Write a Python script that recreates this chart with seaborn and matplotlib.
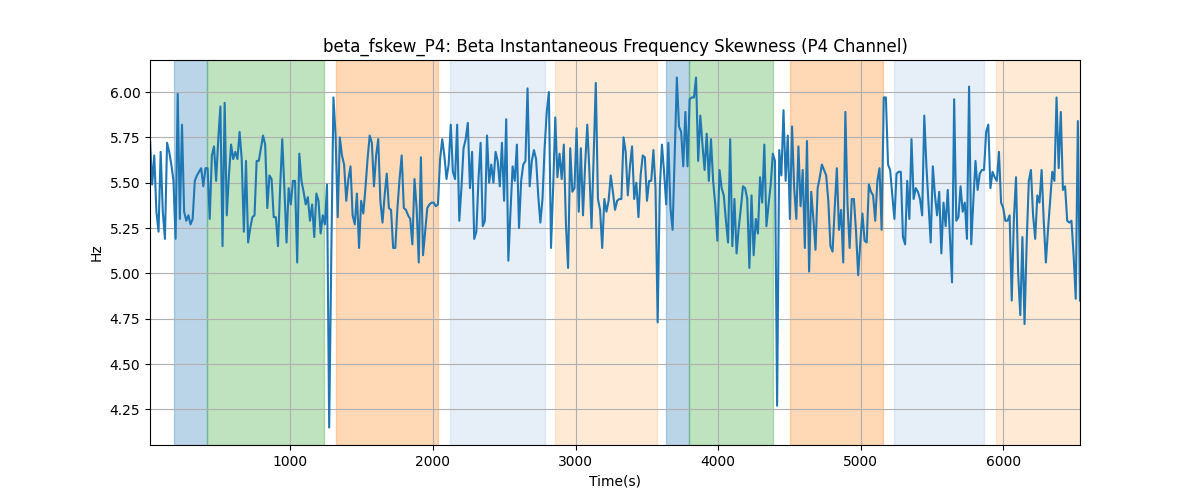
import numpy as np
import pandas as pd
import seaborn as sns
import matplotlib
matplotlib.use("Agg")
import matplotlib.pyplot as plt


# first and last sample time (s), samples are evenly spaced
t_start = 16
t_end = 6538

fskew = [
    5.74, 5.49, 5.65, 5.34, 5.23, 5.67, 5.34, 5.19, 5.72, 5.67,
    5.60, 5.51, 5.19, 5.99, 5.30, 5.82, 5.34, 5.29, 5.32, 5.27,
    5.30, 5.51, 5.54, 5.56, 5.58, 5.48, 5.58, 5.58, 5.30, 5.65,
    5.70, 5.51, 5.74, 5.92, 5.15, 5.94, 5.32, 5.54, 5.71, 5.63,
    5.67, 5.63, 5.78, 5.63, 5.23, 5.62, 5.17, 5.25, 5.31, 5.32,
    5.62, 5.62, 5.69, 5.76, 5.71, 5.36, 5.54, 5.52, 5.31, 5.31,
    5.15, 5.47, 5.74, 5.47, 5.17, 5.47, 5.38, 5.51, 5.51, 5.06,
    5.66, 5.51, 5.45, 5.38,
    5.42, 5.29, 5.38, 5.20, 5.44, 5.40, 5.22, 5.32, 5.27, 5.49,
    4.15, 5.10, 5.97, 5.76, 5.31, 5.75, 5.65, 5.60, 5.40,
    5.52, 5.59, 5.32, 5.27, 5.44, 5.14, 5.40, 5.33, 5.47, 5.63,
    5.76, 5.72, 5.48, 5.65, 5.74, 5.40, 5.28, 5.43, 5.55, 5.36,
    5.35, 5.14, 5.14, 5.36, 5.52, 5.65, 5.36, 5.35, 5.32, 5.30,
    5.16, 5.52, 5.36, 5.06, 5.64, 5.10, 5.23, 5.36, 5.38, 5.39,
    5.39, 5.37, 5.38, 5.63, 5.74, 5.65, 5.52, 5.60, 5.82, 5.56,
    5.52,
    5.82, 5.29, 5.47, 5.69, 5.74, 5.83, 5.47, 5.67, 5.19, 5.23,
    5.52, 5.72, 5.26, 5.29, 5.76, 5.50, 5.60, 5.50, 5.67, 5.62,
    5.48, 5.72, 5.40, 5.85, 5.07, 5.34, 5.59, 5.51, 5.71, 5.25,
    5.51, 5.60, 5.62, 6.02, 5.48, 5.62, 5.68, 5.63, 5.43, 5.28,
    5.41, 5.69, 5.89, 6.00, 5.14, 5.47, 5.86, 5.53, 5.66, 5.52,
    5.71, 5.27, 5.03, 5.69, 5.45, 5.47, 5.80, 5.34, 5.69, 5.32,
    5.60, 5.82, 5.56, 5.25, 5.65, 6.05, 5.41, 5.35, 5.14, 5.41,
    5.34, 5.40, 5.54, 5.45,
    5.35, 5.40, 5.41, 5.41, 5.75, 5.67, 5.43, 5.59, 5.70, 5.41,
    5.50, 5.31, 5.54, 5.65, 5.64, 5.40, 5.51, 5.51, 5.68, 5.47,
    4.73, 5.47, 5.71, 5.56, 5.38, 5.72, 5.36, 5.24, 5.65, 6.08,
    5.81, 5.78, 5.59, 5.89, 5.59, 5.96, 5.97, 5.97, 6.08, 5.62,
    5.87, 5.71, 5.57, 5.77, 5.51, 5.74, 5.51, 5.38, 5.18, 5.57,
    5.47, 5.43, 5.29, 5.17, 5.74, 5.15, 5.41, 5.11, 5.25, 5.36,
    5.48, 5.47, 5.41, 5.03, 5.43, 5.10, 5.30, 5.22, 5.53, 5.39,
    5.71, 5.26, 5.38, 5.49,
    5.66, 5.62, 4.27, 5.68, 5.54, 5.90, 5.51, 5.76, 5.30, 5.81,
    5.47, 5.30, 5.70, 5.37, 5.57, 5.14, 5.73, 5.01, 5.45, 5.30,
    5.13, 5.47, 5.53, 5.60, 5.57, 5.54, 5.40, 5.15, 5.12, 5.36,
    5.58, 5.24, 5.35, 5.06, 5.89, 5.38, 5.14, 5.41, 5.41, 5.23,
    4.99, 5.17, 5.33, 5.18, 5.17, 5.49, 5.45, 5.43, 5.29, 5.51,
    5.58, 5.24, 5.97, 5.97, 5.60, 5.57, 5.43, 5.30, 5.55, 5.56,
    5.56, 5.20, 5.16, 5.51, 5.30, 5.74, 5.41, 5.47, 5.45, 5.41,
    5.32, 5.87,
    5.59, 5.38, 5.17, 5.59, 5.43, 5.32, 5.45, 5.11, 5.39, 5.26,
    5.46, 5.20, 4.95, 5.96, 5.29, 5.31, 5.48, 5.34, 5.39, 5.19,
    6.03, 5.16, 5.40, 5.62, 5.46, 5.55, 5.57, 5.57, 5.78, 5.82,
    5.47, 5.56, 5.53, 5.51, 5.67, 5.39, 5.36, 5.29, 5.29, 5.32,
    4.85, 5.30, 5.53, 5.00, 4.77, 5.20, 4.72, 5.17, 5.51, 5.57,
    5.32, 5.19, 5.43, 5.39, 5.57, 5.29, 5.06, 5.24, 5.40, 5.56,
    5.51, 5.97, 5.58, 5.89, 5.46, 5.48, 5.29, 5.28, 5.29, 5.10,
    4.86, 5.84, 4.85,
]

# shaded segments: start, end, colour
seg_start = [186, 418, 1320, 2120, 2856, 3635, 3798, 4504, 5236, 5949]
seg_end = [418, 1234, 2038, 2786, 3569, 3798, 4387, 5154, 5865, 6538]
seg_color = ["#1f77b4", "#2ca02c", "#ff7f0e", "#aec7e8", "#ffbb78",
             "#1f77b4", "#2ca02c", "#ff7f0e", "#aec7e8", "#ffbb78"]

time = np.linspace(t_start, t_end, len(fskew))
df = pd.DataFrame({"time": time, "fskew": fskew})

fig, ax = plt.subplots(figsize=(12, 5), dpi=100)

for s, e, c in zip(seg_start, seg_end, seg_color):
    ax.axvspan(s, e, color=c, alpha=0.3)

sns.lineplot(data=df, x="time", y="fskew", ax=ax, color="#1f77b4", linewidth=1.5)

ax.set_xlim(df.time.min(), df.time.max())
ax.grid(True)
ax.set_xlabel("Time(s)")
ax.set_ylabel("Hz")
ax.set_title("beta_fskew_P4: Beta Instantaneous Frequency Skewness (P4 Channel)")

plt.savefig("out.png")
